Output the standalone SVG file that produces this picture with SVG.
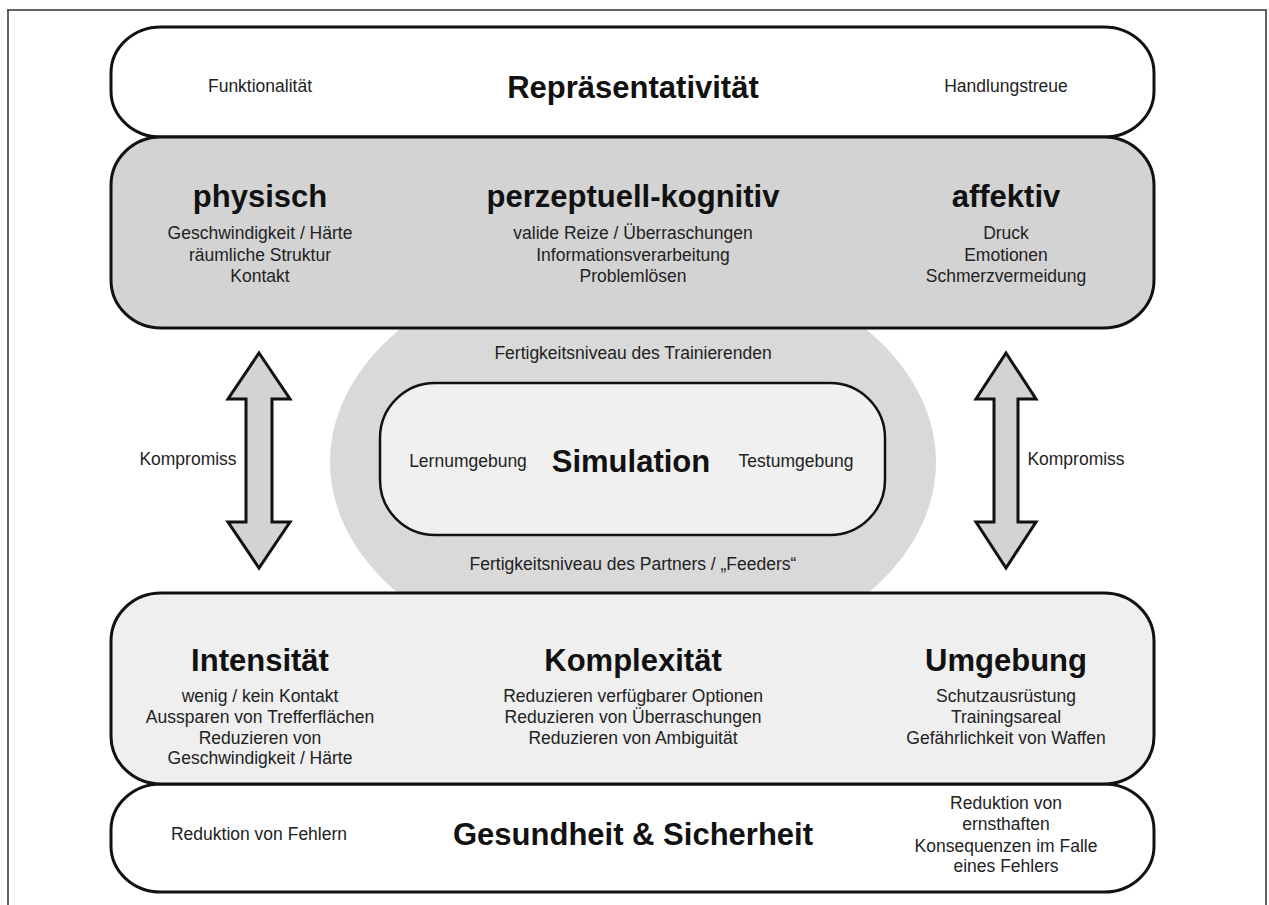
<svg xmlns="http://www.w3.org/2000/svg" width="1269" height="905" viewBox="0 0 1269 905">
<style>
.band{stroke:#111;stroke-width:3}
.h{font-family:"Liberation Sans",Arial,sans-serif;font-weight:bold;font-size:31px;fill:#111;text-anchor:middle}
.t{font-family:"Liberation Sans",Arial,sans-serif;font-size:17.5px;fill:#222;text-anchor:middle}
.arrow{fill:#d3d3d3;stroke:#111;stroke-width:3;stroke-linejoin:miter}
</style>
<rect width="1269" height="905" fill="#fff"/>
<g id="frame" fill="none" stroke="#333" stroke-width="1.5">
<path d="M7 10 H1267 M8 10 V905 M1266 10 V905"/>
</g>
<g id="simulation-context">
<ellipse cx="633" cy="462" rx="303" ry="208" fill="#d9d9d9"/>
<text class="t" x="633" y="359">Fertigkeitsniveau des Trainierenden</text>
<text class="t" x="633" y="570">Fertigkeitsniveau des Partners / „Feeders“</text>
</g>
<g id="reprasentativitaet">
<rect class="band" x="111" y="27" width="1043" height="110" rx="50" ry="46" fill="#fff"/>
<text class="t" x="260" y="92">Funktionalität</text>
<text class="h" x="633" y="98">Repräsentativität</text>
<text class="t" x="1006" y="92">Handlungstreue</text>
</g>
<g id="dimensionen">
<rect class="band" x="111" y="137" width="1043" height="191" rx="50" ry="48" fill="#d3d3d3"/>
<text class="h" x="260" y="207">physisch</text>
<text class="t" x="260" y="239">Geschwindigkeit / Härte</text>
<text class="t" x="260" y="261">räumliche Struktur</text>
<text class="t" x="260" y="282">Kontakt</text>
<text class="h" x="633" y="207">perzeptuell-kognitiv</text>
<text class="t" x="633" y="239">valide Reize / Überraschungen</text>
<text class="t" x="633" y="261">Informationsverarbeitung</text>
<text class="t" x="633" y="282">Problemlösen</text>
<text class="h" x="1006" y="207">affektiv</text>
<text class="t" x="1006" y="239">Druck</text>
<text class="t" x="1006" y="261">Emotionen</text>
<text class="t" x="1006" y="282">Schmerzvermeidung</text>
</g>
<g id="simulation">
<rect x="380" y="383" width="505" height="152" rx="55" ry="55" fill="#f0f0f0" stroke="#111" stroke-width="2.5"/>
<text class="t" x="468" y="467">Lernumgebung</text>
<text class="h" x="631" y="472">Simulation</text>
<text class="t" x="796" y="467">Testumgebung</text>
</g>
<g id="connectors">
<polygon class="arrow" points="259,353 290,399 272,399 272,522 290,522 259,568 228,522 246,522 246,399 228,399"/>
<polygon class="arrow" points="1006,353 1036,399 1018,399 1018,522 1036,522 1006,568 976,522 994,522 994,399 976,399"/>
<text class="t" x="188" y="465">Kompromiss</text>
<text class="t" x="1076" y="465">Kompromiss</text>
</g>
<g id="gesundheit">
<rect class="band" x="111" y="784" width="1043" height="108" rx="50" ry="46" fill="#fff"/>
<text class="t" x="259" y="840">Reduktion von Fehlern</text>
<text class="h" x="633" y="845">Gesundheit &amp; Sicherheit</text>
<text class="t" x="1006" y="809">Reduktion von</text>
<text class="t" x="1006" y="830">ernsthaften</text>
<text class="t" x="1006" y="852">Konsequenzen im Falle</text>
<text class="t" x="1006" y="872">eines Fehlers</text>
</g>
<g id="anpassungen">
<rect class="band" x="111" y="593" width="1043" height="191" rx="50" ry="48" fill="#efefef"/>
<text class="h" x="260" y="671">Intensität</text>
<text class="t" x="260" y="702">wenig / kein Kontakt</text>
<text class="t" x="260" y="723">Aussparen von Trefferflächen</text>
<text class="t" x="260" y="744">Reduzieren von</text>
<text class="t" x="260" y="764">Geschwindigkeit / Härte</text>
<text class="h" x="633" y="671">Komplexität</text>
<text class="t" x="633" y="702">Reduzieren verfügbarer Optionen</text>
<text class="t" x="633" y="723">Reduzieren von Überraschungen</text>
<text class="t" x="633" y="744">Reduzieren von Ambiguität</text>
<text class="h" x="1006" y="671">Umgebung</text>
<text class="t" x="1006" y="702">Schutzausrüstung</text>
<text class="t" x="1006" y="723">Trainingsareal</text>
<text class="t" x="1006" y="744">Gefährlichkeit von Waffen</text>
</g>
</svg>
